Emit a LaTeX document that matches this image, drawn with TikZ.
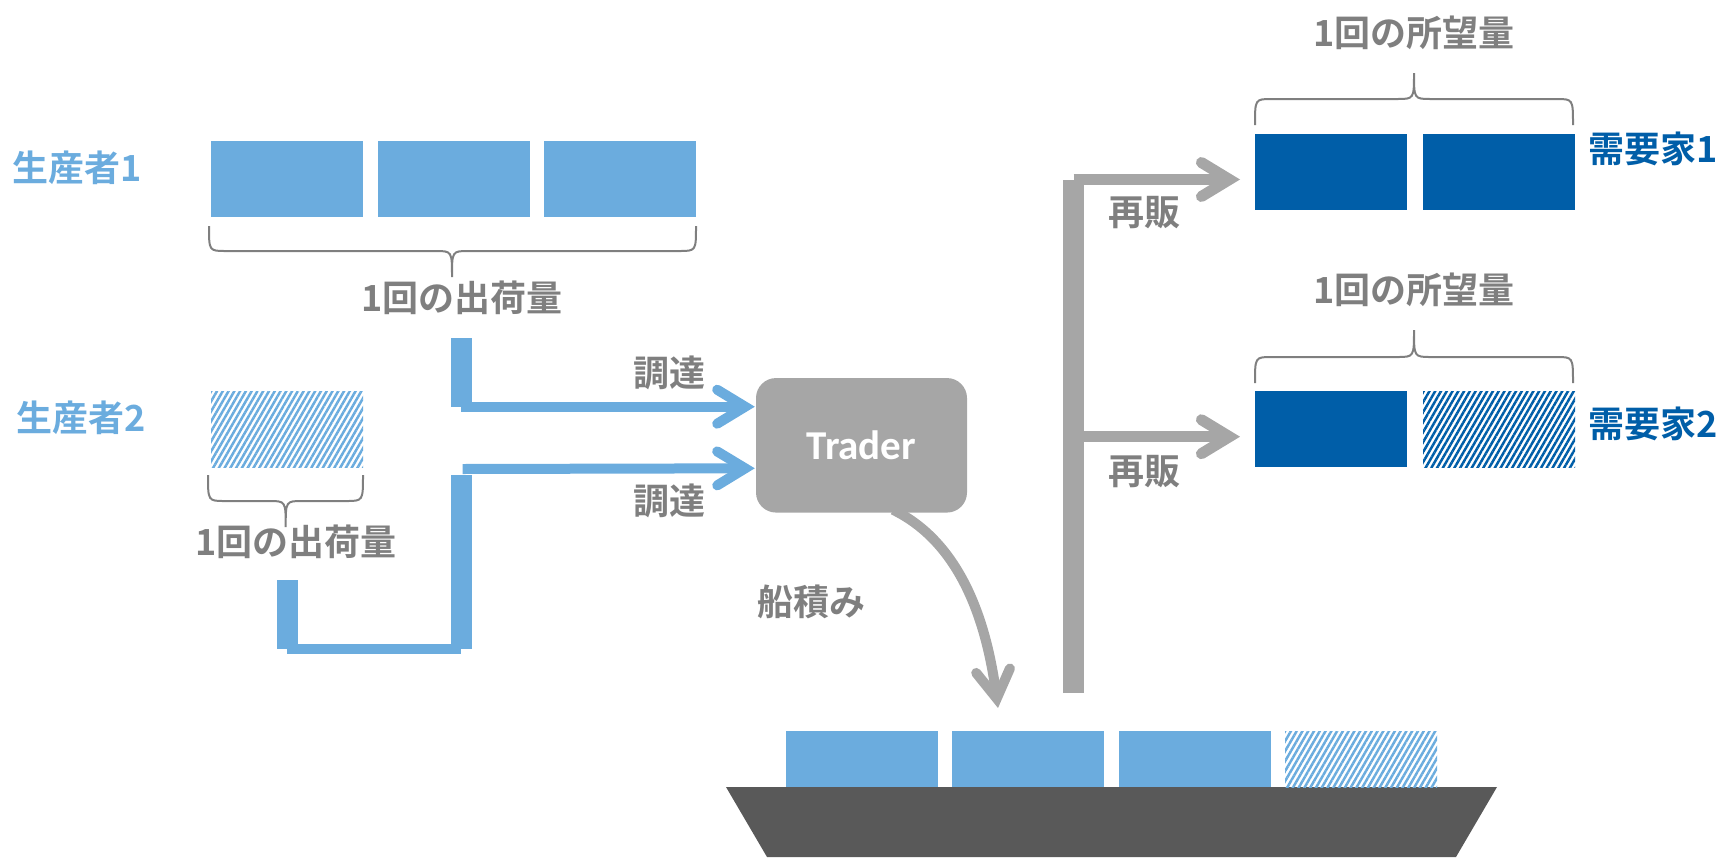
\documentclass[tikz,border=0pt]{standalone}
\usepackage{fontspec}
\newfontfamily\jpfont{Noto Sans CJK JP}[BoldFont={Noto Sans CJK JP Bold}]
\newfontfamily\carfont{Carlito}
\usetikzlibrary{arrows.meta,patterns.meta,backgrounds}
\definecolor{lblue}{HTML}{6BACDE}
\definecolor{dblue}{HTML}{005EA8}
\definecolor{agray}{HTML}{A6A6A6}
\definecolor{tgray}{HTML}{7F7F7F}
\definecolor{hullc}{HTML}{595959}
\tikzset{
  jp/.style={font=\jpfont\bfseries\fontsize{36}{40}\selectfont, inner sep=0pt},
  graytext/.style={jp, text=tgray},
  box/.style={rectangle, inner sep=0pt, minimum width=152pt, minimum height=76pt, draw=none},
  lbox/.style={box, fill=lblue},
  dbox/.style={box, fill=dblue},
  hatch/.style={box, pattern={Lines[angle=60,distance=5pt,line width=2.5pt]}, pattern color=#1},
  bracestyle/.style={draw=tgray, line width=2pt},
  bluev/.style={draw=lblue, line width=21pt},
  blueh/.style={draw=lblue, line width=10pt},
  grayv/.style={draw=agray, line width=21pt},
  grayh/.style={draw=agray, line width=11pt},
  chev/.tip={Straight Barb[length=28pt,width=34pt,line cap=round,line join=miter]},
}
\newcommand\mybrace[6]{%
  \draw[bracestyle] (#1,#4) .. controls (#1,#5) .. ({#1+17},#5) -- ({#3-17},#5)
    .. controls (#3,#5) .. (#3,#6) .. controls (#3,#5) .. ({#3+17},#5)
    -- ({#2-17},#5) .. controls (#2,#5) .. (#2,#4);
}
\begin{document}
\begin{tikzpicture}[x=1pt,y=-1pt]
\useasboundingbox (0,0) rectangle (1722,857);

% producers
\node[jp, text=lblue] (prod1) at (77.5,167.5) {生産者1};
\node[jp, text=lblue] (prod2) at (81,417.5) {生産者2};
\node[lbox] (p1a) at (287,179) {};
\node[lbox] (p1b) at (454,179) {};
\node[lbox] (p1c) at (620,179) {};
\node[hatch=lblue] (p2a) at (287,429.5) {};
\mybrace{209}{696}{452}{226}{251}{277}
\mybrace{208}{363}{285.7}{475}{501}{527}
\node[graytext] (q1) at (462,297.5) {1回の出荷量};
\node[graytext] (q2) at (296,541.5) {1回の出荷量};

% trader
\node[rounded corners=20pt, fill=agray, minimum width=211pt, minimum height=134.5pt,
      inner sep=0pt, text=white, font=\carfont\bfseries\fontsize{41}{48}\selectfont]
      (trader) at (861.5,445.3) {Trader};
\path (trader.west) ++(-1,-38.6) coordinate (in1);
\path (trader.west) ++(-1,23) coordinate (in2);

% blue pipes
\coordinate (p1out) at (461.2,338.3);
\draw[bluev] (p1out) -- (p1out |- in1);
\draw[blueh,-chev] (p1out |- in1) -- (in1);
\coordinate (p2out) at (287.2,580);
\coordinate (p2low) at (287.2,648.6);
\coordinate (p2corner) at (461.2,648.6);
\coordinate (p2top) at (461.2,475);
\draw[bluev] (p2out) -- (p2low);
\draw[blueh] (p2low) -- (p2corner);
\draw[bluev] (p2corner) -- (p2top);
\draw[blueh,-chev] (462.7,469) -- (in2);
\node[graytext] (buy1) at (669,372.5) {調達};
\node[graytext] (buy2) at (669,501) {調達};

% shipping arrow
\coordinate (shipin) at (998,708);
\begin{scope}[on background layer]
\draw[draw=agray, line width=10pt, -chev] ([xshift=31.5pt,yshift=3pt]trader.south)
  .. controls (955,540) and (985,610) .. (shipin);
\end{scope}
\node[graytext] (load) at (811.7,601.7) {船積み};

% ship
\fill[hullc] (726,787) -- (1497,787) -- (1456,857) -- (767,857) -- cycle;
\node[lbox, minimum height=56pt] (c1) at (862,759) {};
\node[lbox, minimum height=56pt] (c2) at (1028,759) {};
\node[lbox, minimum height=56pt] (c3) at (1195,759) {};
\node[hatch=lblue, minimum height=56pt] (c4) at (1361,759) {};

% resale pipe
\coordinate (gtop) at (1073.7,179.5);
\coordinate (gbot) at (1073.7,693);
\coordinate (out1) at (1240,179.5);
\coordinate (out2) at (1240,436.7);
\draw[grayv] (gbot) -- (gtop);
\draw[grayh,-chev] (gtop) -- (out1);
\draw[grayh,-chev] (gtop |- out2) -- (out2);
\node[graytext] (sell1) at (1144,212.5) {再販};
\node[graytext] (sell2) at (1144,472) {再販};

% demanders
\node[dbox] (d1a) at (1331,171.7) {};
\node[dbox] (d1b) at (1499,171.7) {};
\node[dbox] (d2a) at (1331,429) {};
\node[hatch=dblue] (d2b) at (1499,429) {};
\mybrace{1255}{1573}{1414}{125}{99}{73}
\mybrace{1255}{1573}{1414}{383}{357}{330}
\node[graytext] (w1) at (1414,33.3) {1回の所望量};
\node[graytext] (w2) at (1414,290) {1回の所望量};
\node[jp, text=dblue] (cons1) at (1653,149) {需要家1};
\node[jp, text=dblue] (cons2) at (1653,424) {需要家2};
\end{tikzpicture}
\end{document}
